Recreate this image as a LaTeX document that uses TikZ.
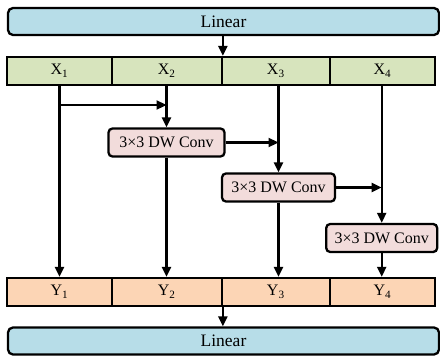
\documentclass[tikz,border=0pt]{standalone}
\usepackage{fontspec}
\setmainfont{Liberation Serif}
\usetikzlibrary{arrows.meta}
\definecolor{linblue}{HTML}{B7DDE8}
\definecolor{xgreen}{HTML}{D7E4BD}
\definecolor{ypeach}{HTML}{FCD5B5}
\definecolor{convpink}{HTML}{F2DCDB}
\begin{document}
\begin{tikzpicture}[x=1pt,y=-1pt,line width=2.3pt,
    every node/.style={font=\fontsize{16}{18}\selectfont,inner sep=0pt},
    linbox/.style={draw,fill=linblue,rounded corners=5pt,minimum width=431pt,minimum height=27pt,
      font=\fontsize{17.5}{20}\selectfont},
    xcell/.style={draw,fill=xgreen,minimum height=28pt},
    ycell/.style={draw,fill=ypeach,minimum height=28pt},
    convbox/.style={draw,fill=convpink,rounded corners=4pt,minimum width=113pt,minimum height=28pt},
    >={Triangle[length=10pt,width=9pt]}]
  \useasboundingbox (0,0) rectangle (440,356);
  \draw
    (223.5,21.5) node[linbox] (lintop){Linear}
    (59.5,71) node[xcell,minimum width=104.5pt] (x1){X\textsubscript{1}}
    (166.7,71) node[xcell,minimum width=110pt] (x2){X\textsubscript{2}}
    (275.8,71) node[xcell,minimum width=108.3pt] (x3){X\textsubscript{3}}
    (382.5,71) node[xcell,minimum width=105pt] (x4){X\textsubscript{4}}
    (166.5,142.5) node[convbox,minimum width=116pt] (conv1){3×3 DW Conv}
    (278.5,187.5) node[convbox] (conv2){3×3 DW Conv}
    (381.7,238) node[convbox,minimum width=111pt] (conv3){3×3 DW Conv}
    (59.5,292) node[ycell,minimum width=104.5pt] (y1){Y\textsubscript{1}}
    (166.7,292) node[ycell,minimum width=110pt] (y2){Y\textsubscript{2}}
    (275.8,292) node[ycell,minimum width=108.3pt] (y3){Y\textsubscript{3}}
    (382.5,292) node[ycell,minimum width=105pt] (y4){Y\textsubscript{4}}
    (223.5,341) node[linbox] (linbot){Linear};
  \coordinate (split) at (60,105);
  \begin{scope}[->]
    \draw (lintop.south -| x2.north east) to (x2.north east);
    \draw (x1.south) to (y1.north);
    \draw (split) to (split -| conv1.north);
    \draw (conv1.north |- x2.south) to (conv1.north);
    \draw (conv1.south) to (conv1.south |- y2.north);
    \draw (conv1.east) to (conv1.east -| conv2.north);
    \draw (conv2.north |- x3.south) to (conv2.north);
    \draw (conv2.south) to (conv2.south |- y3.north);
    \draw (conv2.east) to (conv2.east -| conv3.north);
    \draw (conv3.north |- x4.south) to (conv3.north);
    \draw (conv3.south) to (conv3.south |- y4.north);
    \draw (y2.south east) to (y2.south east |- linbot.north);
  \end{scope}
\end{tikzpicture}
\end{document}
